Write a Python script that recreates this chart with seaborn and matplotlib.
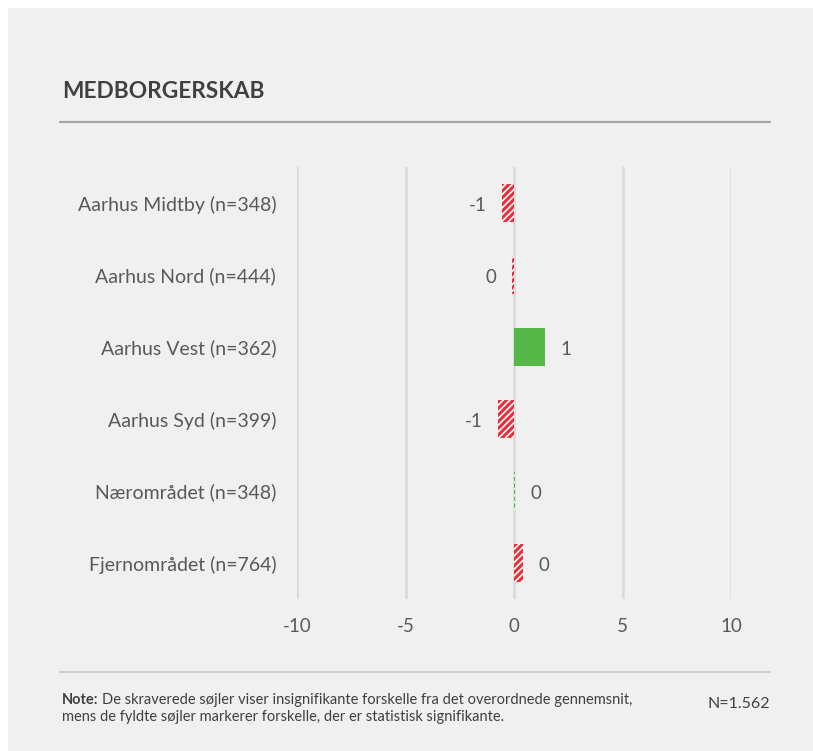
import matplotlib
matplotlib.use("Agg")
import matplotlib.pyplot as plt
import seaborn as sns
import pandas as pd
from matplotlib.patches import Rectangle
from matplotlib.lines import Line2D

# Data
områder = ["Aarhus Midtby (n=348)", "Aarhus Nord (n=444)", "Aarhus Vest (n=362)",
           "Aarhus Syd (n=399)", "Nærområdet (n=348)", "Fjernområdet (n=764)"]
forskel = [-0.55, -0.10, 1.43, -0.73, 0.05, 0.42]
signifikant = [False, False, True, False, False, False]
farver = ["#e8303a", "#e8303a", "#56b848", "#e8303a", "#56b848", "#e8303a"]
xticks = [-10, -5, 0, 5, 10]

tekst = "#595959"

sns.set_theme(style="white")
plt.rcParams["font.family"] = ["Lato", "DejaVu Sans"]
plt.rcParams["hatch.linewidth"] = 2.2

fig = plt.figure(figsize=(8.13, 7.51), dpi=100)
fig.patch.set_facecolor("white")
fig.patches.append(Rectangle((8 / 813, 0), 1, 1 - 8 / 751, transform=fig.transFigure,
                             facecolor="#f0f0f0", edgecolor="none", zorder=-10))

ax = fig.add_axes([297 / 813, 1 - 599 / 751, 434 / 813, 432 / 751])
ax.set_facecolor("none")

df = pd.DataFrame({"omraade": områder, "forskel": forskel})
sns.barplot(data=df, x="forskel", y="omraade", hue="omraade", palette=farver,
            saturation=1, legend=False, width=0.52, ax=ax, orient="h", zorder=3)

for p, farve, sig in zip(ax.patches, farver, signifikant):
    p.set_linewidth(0)
    if not sig:
        p.set_facecolor("white")
        p.set_edgecolor(farve)
        p.set_hatch("/////")

# labels ved enden af søjlerne
for i, v in enumerate(forskel):
    lbl = str(int(round(v)))
    if v < 0:
        ax.annotate(lbl, (v, i + 0.03), xytext=(-11, 0), textcoords="offset points",
                    ha="right", va="center", fontsize=13.5, color=tekst)
    else:
        ax.annotate(lbl, (v, i + 0.03), xytext=(11, 0), textcoords="offset points",
                    ha="left", va="center", fontsize=13.5, color=tekst)

ax.set_xlim(-10, 10)
ax.set_ylim(5.5, -0.5)
ax.set_xticks(xticks)
ax.set_xticklabels([str(t) for t in xticks])
ax.grid(axis="x", color="#d9d9d9", linewidth=1.8, zorder=0)
ax.set_axisbelow(True)
for s in ax.spines.values():
    s.set_visible(False)
ax.tick_params(axis="both", length=0, labelsize=13.5, labelcolor=tekst)
ax.tick_params(axis="y", labelsize=14, pad=15)
ax.tick_params(axis="x", pad=14)
ax.set_xlabel("")
ax.set_ylabel("")

# titel og linjer
fig.text(62 / 813, 1 - 91 / 751, "MEDBORGERSKAB", fontsize=16.3, fontweight="bold",
         color="#404040", va="center", ha="left")
fig.add_artist(Line2D([60 / 813, 770 / 813], [1 - 122 / 751] * 2, color="#a6a6a6",
                      linewidth=1.6, transform=fig.transFigure))
fig.add_artist(Line2D([60 / 813, 770 / 813], [1 - 672 / 751] * 2, color="#d0d0d0",
                      linewidth=1.6, transform=fig.transFigure))

# note med fed "Note:"
note_fs = 10.5
t_note = fig.text(62 / 813, 1 - 700 / 751, "Note:", fontsize=note_fs, fontweight="bold",
                  color="#404040", va="center", ha="left")
r = fig.canvas.get_renderer()
w = t_note.get_window_extent(renderer=r).width
fig.text((62 + w + 3) / 813, 1 - 700 / 751,
         "De skraverede søjler viser insignifikante forskelle fra det overordnede gennemsnit,",
         fontsize=note_fs, color="#404040", va="center", ha="left")
fig.text(62 / 813, 1 - 717 / 751,
         "mens de fyldte søjler markerer forskelle, der er statistisk signifikante.",
         fontsize=note_fs, color="#404040", va="center", ha="left")
fig.text(770 / 813, 1 - 704 / 751, "N=1.562", fontsize=11.5, color="#404040",
         va="center", ha="right")

fig.savefig("out.png", dpi=100, facecolor=fig.get_facecolor())
